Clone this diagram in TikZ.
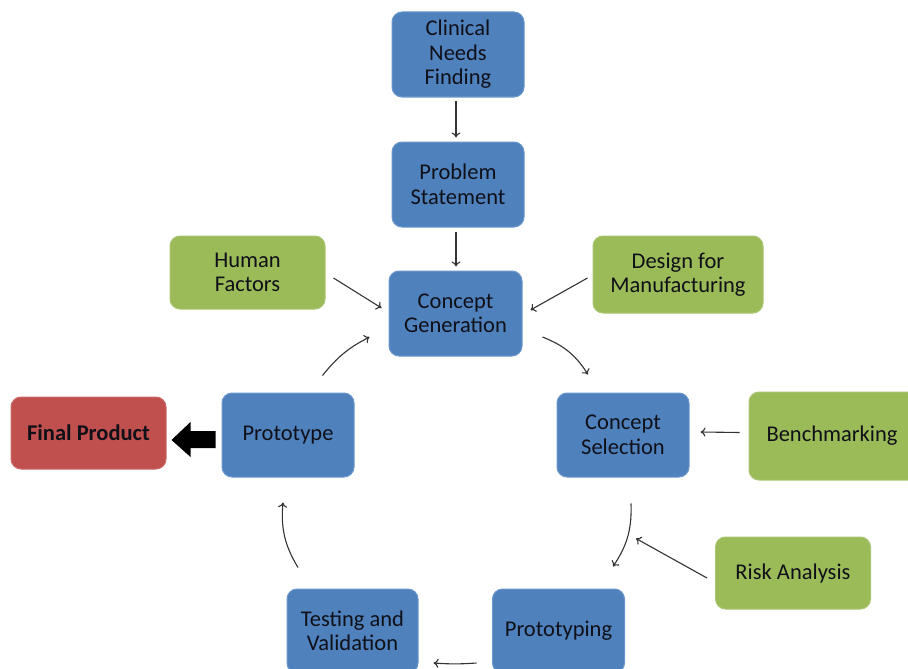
\documentclass[tikz,border=0pt]{standalone}
\usepackage{fontspec}
\setmainfont{Carlito}
\usetikzlibrary{calc,arrows.meta}
\definecolor{boxblue}{HTML}{4F81BD}
\definecolor{boxblueedge}{HTML}{6B97CC}
\definecolor{boxgreen}{HTML}{9BBB59}
\definecolor{boxred}{HTML}{C0504D}
\definecolor{txt}{HTML}{101018}
\definecolor{arr}{HTML}{333333}
\tikzset{
  box/.style={rounded corners=10pt, align=center, text=txt, inner sep=0pt,
    font=\fontsize{22.5}{24.5}\selectfont},
  bluebox/.style={box, fill=boxblue, draw=boxblueedge, line width=1pt},
  greenbox/.style={box, fill=boxgreen, draw=boxgreen!85!white, line width=1pt},
  redbox/.style={box, fill=boxred, draw=boxred!85!white, line width=1pt},
  conn/.style={draw=arr, line width=1.1pt, -{To[length=5pt,width=9pt]}},
}
\begin{document}
\begin{tikzpicture}[x=1pt,y=-1pt]
\useasboundingbox (0,0) rectangle (908,669);
\clip (0,0) rectangle (908,669);
\fill[white] (0,0) rectangle (908,669);

\node[bluebox, minimum width=132pt, minimum height=85pt] (cnf) at (458,54.5) {Clinical\\Needs\\Finding};
\node[bluebox, minimum width=132pt, minimum height=85pt] (ps) at (458,184.5) {Problem\\Statement};
\node[bluebox, minimum width=133pt, minimum height=85pt] (cg) at (455.5,313.5) {Concept\\Generation};
\node[greenbox, minimum width=155pt, minimum height=73pt] (hf) at (247.5,272.5) {Human\\Factors};
\node[greenbox, minimum width=170pt, minimum height=77pt] (dfm) at (678,274.5) {Design for\\Manufacturing};
\node[bluebox, minimum width=132pt, minimum height=84pt] (cs) at (623,435) {Concept\\Selection};
\node[greenbox, minimum width=170pt, minimum height=88pt] (bm) at (834,436) {\hspace*{-4pt}Benchmarking};
\node[greenbox, minimum width=155pt, minimum height=72pt] (ra) at (793,573) {Risk Analysis};
\node[bluebox, minimum width=132pt, minimum height=84pt] (proto) at (558.5,631) {Prototyping};
\node[bluebox, minimum width=131pt, minimum height=84pt] (tv) at (352.5,631) {Testing and\\Validation};
\node[bluebox, minimum width=132pt, minimum height=84pt] (pt) at (288,435) {Prototype};
\node[redbox, minimum width=155pt, minimum height=72pt] (fp) at (88.5,433) {\textbf{Final Product}};

% straight connectors
\draw[conn] ($(cnf.south)+(-2,3.5)$) -- ($(ps.north)+(-2,-4)$);
\draw[conn] ($(ps.south)+(-2,4)$) -- ($(cg.north)+(0.5,-4)$);
\draw[conn] ($(hf.east)+(8,5.5)$) -- ($(cg.west)+(-7,-5.5)$);
\draw[conn] ($(dfm.west)+(-5,3.5)$) -- ($(cg.east)+(8,-3.5)$);
\draw[conn] ($(bm.west)+(-9,-3.5)$) -- ($(cs.east)+(11,-3)$);
\draw[conn] ($(ra.west)+(-8,5)$) -- ($(cs.south)+(13,61)$);
\draw[conn] ($(proto.west)+(-15.5,32)$) to[bend left=4] ($(tv.east)+(15,32)$);

% curved cycle connectors
\draw[conn] ($(cg.east)+(20,23.5)$) to[bend left=18] ($(cs.north)+(-35,-18)$);
\draw[conn] ($(cs.south)+(8,26)$) to[bend left=18] ($(proto.north)+(54.5,-22)$);
\draw[conn] ($(tv.north)+(-54.5,-21)$) to[bend left=18] ($(pt.south)+(-5,25)$);
\draw[conn] ($(pt.north east)+(-32,-17)$) to[bend left=12] ($(cg.west)+(-19,23.5)$);

% thick arrow Prototype -> Final Product
\fill[black] ($(pt.west)+(-6,-4)$) -- ($(pt.west)+(-31,-4)$) -- ($(pt.west)+(-31,-13)$)
  -- ($(pt.west)+(-50,5)$) -- ($(pt.west)+(-31,22)$) -- ($(pt.west)+(-31,13)$)
  -- ($(pt.west)+(-6,13)$) -- cycle;
\end{tikzpicture}
\end{document}
